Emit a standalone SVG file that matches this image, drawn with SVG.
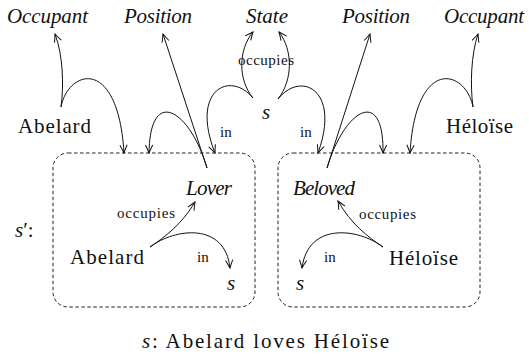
<svg xmlns="http://www.w3.org/2000/svg" width="529" height="358" viewBox="0 0 529 358">
<style>
text{font-family:"Liberation Serif","Times New Roman",serif;fill:#111}
.lab{font-size:21px}
.it{font-style:italic}
.sm{font-size:15px}
.box{fill:none;stroke:#222;stroke-width:1;stroke-dasharray:3.5 2.5}
.c{fill:none;stroke:#111;stroke-width:1;marker-end:url(#tip)}
</style>
<defs>
<marker id="tip" viewBox="-9 -5 10 10" markerWidth="10" markerHeight="10" refX="0" refY="0" orient="auto" markerUnits="userSpaceOnUse">
<path d="M-8,-3.6 Q-3,-1.2 0,0 Q-3,1.2 -8,3.6" fill="none" stroke="#111" stroke-width="1"/>
</marker>
</defs>
<rect width="529" height="358" fill="#fff"/>
<g id="box-left"><rect class="box" x="53" y="153" width="202" height="154" rx="15"/></g>
<g id="box-right"><rect class="box" x="278" y="153" width="202" height="154" rx="15"/></g>
<g id="connectors">
<path class="c" d="M61,107 C64,85 63,55 55,34"/>
<path class="c" d="M61,107 C68,70 118,55 124,153"/>
<path class="c" d="M207,168 L163,34"/>
<path class="c" d="M207,168 C190,110 150,85 149,153"/>
<path class="c" d="M253,98 C238,80 238,50 253,32"/>
<path class="c" d="M278,99 C293,80 293,50 279,32"/>
<path class="c" d="M253,98 C230,70 190,90 215,153"/>
<path class="c" d="M278,99 C301,70 341,90 318,153"/>
<path class="c" d="M327,168 L370,34"/>
<path class="c" d="M327,168 C344,110 384,85 383,153"/>
<path class="c" d="M473,107 C470,85 471,55 478,34"/>
<path class="c" d="M473,107 C466,70 416,55 410,153"/>
<path class="c" d="M150,247 C165,237 182,224 195,202"/>
<path class="c" d="M150,247 C175,228 225,222 230,268"/>
<path class="c" d="M383,247 C368,237 351,224 338,201"/>
<path class="c" d="M383,247 C358,228 308,222 302,268"/>
</g>
<g id="occupant-left"><text class="lab it" x="7" y="23" textLength="81" lengthAdjust="spacing">Occupant</text></g>
<g id="position-left"><text class="lab it" x="124" y="23" textLength="68" lengthAdjust="spacing">Position</text></g>
<g id="state"><text class="lab it" x="246" y="23" textLength="42" lengthAdjust="spacing">State</text></g>
<g id="position-right"><text class="lab it" x="342" y="23" textLength="68" lengthAdjust="spacing">Position</text></g>
<g id="occupant-right"><text class="lab it" x="444" y="23" textLength="80" lengthAdjust="spacing">Occupant</text></g>
<g id="abelard-top"><text class="lab" x="18" y="133" textLength="73" lengthAdjust="spacing">Abelard</text></g>
<g id="s-top"><text class="lab it" x="262" y="119">s</text></g>
<g id="heloise-top"><text class="lab" x="446" y="133" textLength="67" lengthAdjust="spacing">Héloïse</text></g>
<g id="edge-labels">
<text class="sm" x="238" y="65" textLength="56" lengthAdjust="spacing">occupies</text>
<text class="sm" x="220" y="137">in</text>
<text class="sm" x="300" y="137">in</text>
<text class="sm" x="117" y="218" textLength="58" lengthAdjust="spacing">occupies</text>
<text class="sm" x="197" y="262">in</text>
<text class="sm" x="359" y="219" textLength="57" lengthAdjust="spacing">occupies</text>
<text class="sm" x="324" y="262">in</text>
</g>
<g id="s-prime"><text class="lab" x="15" y="237"><tspan class="it">s</tspan>′:</text></g>
<g id="lover"><text class="lab it" x="186" y="195" textLength="46" lengthAdjust="spacing">Lover</text></g>
<g id="beloved"><text class="lab it" x="293" y="195" textLength="62" lengthAdjust="spacing">Beloved</text></g>
<g id="abelard-in"><text class="lab" x="70" y="264" textLength="74" lengthAdjust="spacing">Abelard</text></g>
<g id="s-left"><text class="lab it" x="227" y="290">s</text></g>
<g id="heloise-in"><text class="lab" x="389" y="265" textLength="69" lengthAdjust="spacing">Héloïse</text></g>
<g id="s-right"><text class="lab it" x="296" y="290">s</text></g>
<g id="caption"><text class="lab" x="142" y="348" textLength="247" lengthAdjust="spacing"><tspan class="it">s</tspan>: Abelard loves Héloïse</text></g>
</svg>
